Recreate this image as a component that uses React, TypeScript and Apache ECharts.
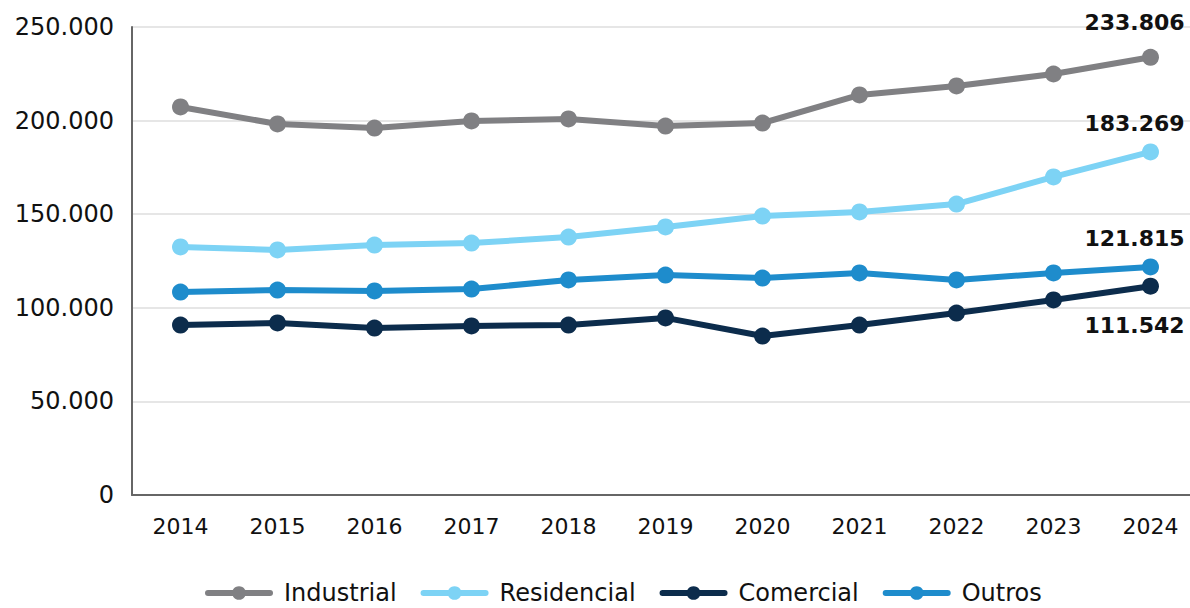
import React, { useEffect, useRef } from "react";
import * as echarts from "echarts";

const years = ["2014", "2015", "2016", "2017", "2018", "2019", "2020", "2021", "2022", "2023", "2024"];
const industrial = [207300, 198200, 196000, 199800, 200900, 197100, 198700, 213700, 218500, 224900, 233806];
const residencial = [132500, 130900, 133500, 134600, 137800, 143200, 149000, 151200, 155400, 169900, 183269];
const comercial = [90800, 91900, 89200, 90300, 90800, 94600, 84900, 90800, 97200, 104200, 111542];
const outros = [108400, 109500, 109000, 110000, 114900, 117500, 115900, 118600, 114900, 118600, 121815];

const fmt = (v: number) => String(Math.round(v)).replace(/\B(?=(\d{3})+(?!\d))/g, ".");

const FONT = "DejaVu Sans";

function makeSeries(name: string, data: number[], color: string, labelPos: string, offY: number) {
  const last = data.length - 1;
  return {
    name,
    type: "line",
    data: data.map((v, i) =>
      i === last
        ? {
            value: v,
            label: {
              show: true,
              position: labelPos,
              offset: [-16, offY],
              formatter: (p: any) => fmt(p.value),
              fontFamily: FONT,
              fontWeight: "bold",
              fontSize: 22,
              color: "#111",
            },
          }
        : v
    ),
    symbol: "circle",
    symbolSize: 17,
    lineStyle: { color, width: 6 },
    itemStyle: { color },
    emphasis: { disabled: true },
  };
}

export default function App() {
  const ref = useRef<HTMLDivElement>(null);
  useEffect(() => {
    const chart = echarts.init(ref.current!, null, { renderer: "svg" });
    chart.setOption({
      animation: false,
      grid: { left: 132, right: 0, top: 27, bottom: 113, containLabel: false },
      legend: {
        bottom: -2,
        left: 200,
        width: 980,
        itemWidth: 62,
        itemHeight: 17,
        itemGap: 24,
        lineStyle: { width: 6, cap: "round" },
        textStyle: { fontFamily: FONT, fontSize: 24, color: "#111", padding: [0, 0, 0, 9] },
        data: ["Industrial", "Residencial", "Comercial", "Outros"],
      },
      xAxis: {
        type: "category",
        data: years,
        boundaryGap: true,
        axisLine: { show: true, lineStyle: { color: "#666", width: 2 } },
        axisTick: { show: false },
        axisLabel: { fontFamily: FONT, fontSize: 22, color: "#111", margin: 20 },
      },
      yAxis: {
        type: "value",
        min: 0,
        max: 250000,
        interval: 50000,
        axisLine: { show: true, lineStyle: { color: "#666", width: 2 } },
        axisTick: { show: false },
        splitLine: { show: true, lineStyle: { color: "#e6e6e6", width: 2 } },
        axisLabel: { fontFamily: FONT, fontSize: 24, color: "#111", margin: 18, formatter: (v: number) => fmt(v) },
      },
      series: [
        makeSeries("Industrial", industrial, "#808083", "top", -10),
        makeSeries("Residencial", residencial, "#7dd3f5", "top", -4),
        makeSeries("Comercial", comercial, "#0c2c4c", "bottom", 15),
        makeSeries("Outros", outros, "#1e8ccc", "top", -4),
      ],
    });
    return () => chart.dispose();
  }, []);
  return (
    <div
      style={{ position: "absolute", left: 0, top: 0, width: 1190, height: 608, overflow: "hidden", background: "#fff" }}
    >
      <div ref={ref} style={{ width: 1199, height: 608 }} />
    </div>
  );
}
